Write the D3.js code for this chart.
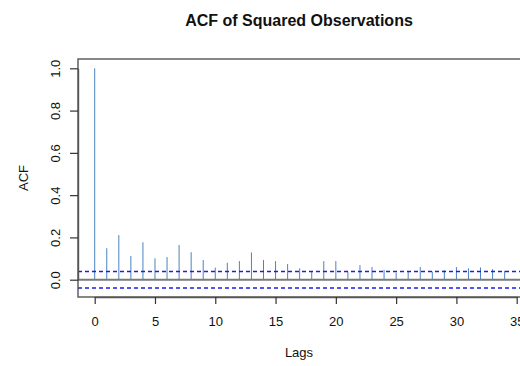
<!DOCTYPE html>
<html>
<head>
<meta charset="utf-8">
<script src="https://cdn.jsdelivr.net/npm/d3@7"></script>
<style>
  html, body { margin: 0; padding: 0; background: #fff; }
  svg { display: block; font-family: "Liberation Sans", Arial, sans-serif; }
</style>
</head>
<body>
<svg id="chart" width="520" height="366"></svg>
<script>
// Autocorrelation of squared observations, lags 0..34
const lags = d3.range(0, 35);
const acfValues = [
  1.000, 0.149, 0.211, 0.112, 0.177, 0.101, 0.107, 0.164, 0.130, 0.093,
  0.057, 0.080, 0.088, 0.129, 0.093, 0.088, 0.074, 0.054, 0.038, 0.088,
  0.088, 0.038, 0.069, 0.060, 0.046, 0.033, 0.040, 0.060, 0.038, 0.045,
  0.060, 0.054, 0.058, 0.050, 0.042
];
const confBand = 0.039;
const xTicks = [0, 5, 10, 15, 20, 25, 30, 35];
const yTicks = [0.0, 0.2, 0.4, 0.6, 0.8, 1.0];

const svg = d3.select("#chart");
const box = { left: 78, right: 521, top: 59, bottom: 297 };

const x = d3.scaleLinear().domain([0, 35]).range([94.7, 516.7]);
const y = d3.scaleLinear().domain([0, 1]).range([279.7, 68.3]);

// one spike per lag
svg.selectAll("line.spike")
  .data(lags)
  .join("line")
  .attr("class", "spike")
  .attr("x1", d => x(d)).attr("x2", d => x(d))
  .attr("y1", y(0)).attr("y2", d => y(acfValues[d]))
  .attr("stroke", "#4a84be")
  .attr("stroke-width", 1);

// zero reference line
svg.append("line")
  .attr("x1", box.left).attr("x2", box.right)
  .attr("y1", y(0)).attr("y2", y(0))
  .attr("stroke", "#7a7a7a")
  .attr("stroke-width", 2);

// significance bounds, drawn over the spikes
svg.selectAll("line.bound")
  .data([confBand, -confBand])
  .join("line")
  .attr("class", "bound")
  .attr("x1", box.left).attr("x2", box.right)
  .attr("y1", d => y(d)).attr("y2", d => y(d))
  .attr("stroke", "#1c1cf0")
  .attr("stroke-width", 1.5)
  .attr("stroke-dasharray", "4,3");

// plot frame
svg.append("rect")
  .attr("x", box.left).attr("y", box.top)
  .attr("width", box.right - box.left).attr("height", box.bottom - box.top)
  .attr("fill", "none")
  .attr("stroke", "#555")
  .attr("stroke-width", 1.4);

// x axis
const gx = svg.append("g")
  .attr("transform", `translate(0,${box.bottom})`)
  .call(d3.axisBottom(x).tickValues(xTicks).tickFormat(d3.format("d")).tickSize(7).tickSizeOuter(0));
gx.select(".domain").attr("stroke", "#555").attr("stroke-width", 1.4);
gx.selectAll(".tick line").attr("stroke", "#333").attr("stroke-width", 1.2);
gx.selectAll(".tick text")
  .attr("y", 29).attr("dy", 0)
  .attr("fill", "#111")
  .style("font-size", "13px")
  .style("font-family", "Liberation Sans, Arial, sans-serif");

// y axis
const gy = svg.append("g")
  .attr("transform", `translate(${box.left},0)`)
  .call(d3.axisLeft(y).tickValues(yTicks).tickFormat(d3.format(".1f")).tickSize(8).tickSizeOuter(0));
gy.select(".domain").attr("stroke", "#555").attr("stroke-width", 1.4);
gy.selectAll(".tick line").attr("stroke", "#333").attr("stroke-width", 1.2);
gy.selectAll(".tick text")
  .attr("transform", "rotate(-90)")
  .attr("x", 0).attr("y", -18.5).attr("dy", 0)
  .attr("text-anchor", "middle")
  .attr("fill", "#111")
  .style("font-size", "13px")
  .style("font-family", "Liberation Sans, Arial, sans-serif");

// titles
svg.append("text")
  .attr("x", 299).attr("y", 26)
  .attr("text-anchor", "middle")
  .attr("font-weight", "bold")
  .attr("font-size", 16)
  .attr("fill", "#111")
  .text("ACF of Squared Observations");

svg.append("text")
  .attr("x", 299).attr("y", 357)
  .attr("text-anchor", "middle")
  .attr("font-size", 13)
  .attr("fill", "#111")
  .text("Lags");

svg.append("text")
  .attr("transform", `translate(28,178) rotate(-90)`)
  .attr("text-anchor", "middle")
  .attr("font-size", 13)
  .attr("fill", "#111")
  .text("ACF");
</script>
</body>
</html>
